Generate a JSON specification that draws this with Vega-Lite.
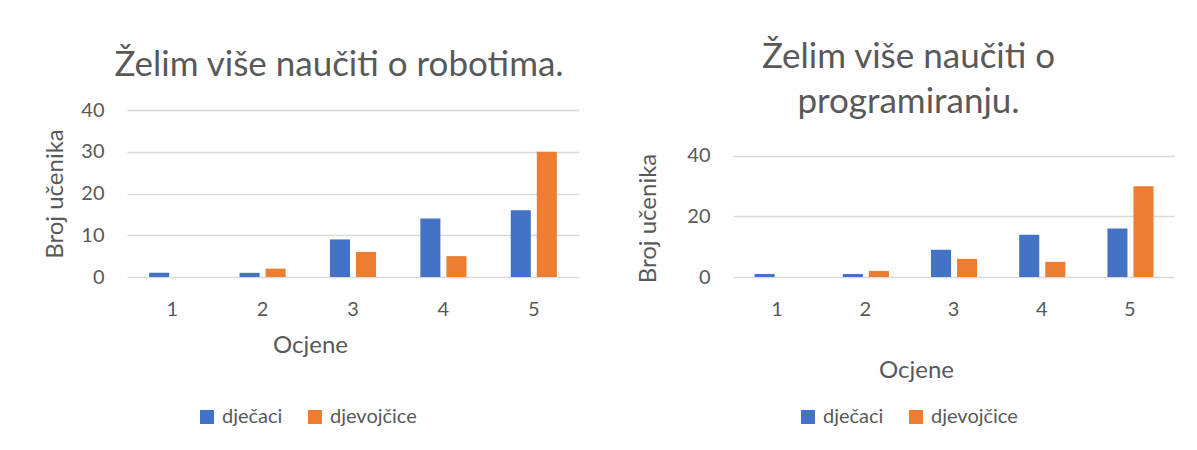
{
  "$schema": "https://vega.github.io/schema/vega-lite/v6.json",
  "background": "white",
  "padding": {"left": 43, "top": 40, "right": 5, "bottom": 5},
  "datasets": {
    "ocjene": [
      {"ocjena": "1", "spol": "dječaci", "broj": 1},
      {"ocjena": "1", "spol": "djevojčice", "broj": 0},
      {"ocjena": "2", "spol": "dječaci", "broj": 1},
      {"ocjena": "2", "spol": "djevojčice", "broj": 2},
      {"ocjena": "3", "spol": "dječaci", "broj": 9},
      {"ocjena": "3", "spol": "djevojčice", "broj": 6},
      {"ocjena": "4", "spol": "dječaci", "broj": 14},
      {"ocjena": "4", "spol": "djevojčice", "broj": 5},
      {"ocjena": "5", "spol": "dječaci", "broj": 16},
      {"ocjena": "5", "spol": "djevojčice", "broj": 30}
    ]
  },
  "spacing": 57,
  "hconcat": [
    {
      "width": 452,
      "height": 167,
      "data": {"name": "ocjene"},
      "title": {"text": "Želim više naučiti o robotima.", "fontSize": 35, "offset": 17, "dx": -14},
      "mark": {"type": "bar"},
      "encoding": {
        "x": {"field": "ocjena", "type": "ordinal", "scale": {"paddingInner": 0.49, "paddingOuter": 0.245},
              "axis": {"title": "Ocjene", "labelAngle": 0, "domain": false, "ticks": false, "grid": false, "labelPadding": 22, "titleX": 183, "titleY": 75, "titleBaseline": "alphabetic"}},
        "xOffset": {"field": "spol", "type": "nominal", "scale": {"domain": ["dječaci", "djevojčice"], "paddingInner": 0.23}},
        "y": {"field": "broj", "type": "quantitative", "scale": {"domain": [0, 40], "nice": false},
              "axis": {"title": "Broj učenika", "values": [0, 10, 20, 30, 40], "domain": false, "ticks": false, "labelPadding": 23, "titlePadding": 13}},
        "color": {"field": "spol", "type": "nominal",
                  "scale": {"domain": ["dječaci", "djevojčice"], "range": ["#4472C4", "#ED7D31"]},
                  "legend": {"title": null, "orient": "none", "legendX": 70, "legendY": 297, "direction": "horizontal"}}
      }
    },
    {
      "width": 441,
      "height": 167,
      "data": {"name": "ocjene"},
      "title": {"text": ["Želim više naučiti o", "programiranju."], "lineHeight": 45, "fontSize": 35, "offset": -10, "dx": -45},
      "mark": {"type": "bar"},
      "encoding": {
        "x": {"field": "ocjena", "type": "ordinal", "scale": {"paddingInner": 0.49, "paddingOuter": 0.245},
              "axis": {"title": "Ocjene", "labelAngle": 0, "domain": false, "ticks": false, "grid": false, "labelPadding": 22, "titleX": 183, "titleY": 100, "titleBaseline": "alphabetic"}},
        "xOffset": {"field": "spol", "type": "nominal", "scale": {"domain": ["dječaci", "djevojčice"], "paddingInner": 0.23}},
        "y": {"field": "broj", "type": "quantitative", "scale": {"domain": [0, 55.2], "nice": false},
              "axis": {"title": "Broj učenika", "values": [0, 20, 40], "domain": false, "ticks": false, "labelPadding": 23, "titlePadding": 26, "titleY": 108}},
        "color": {"field": "spol", "type": "nominal",
                  "scale": {"domain": ["dječaci", "djevojčice"], "range": ["#4472C4", "#ED7D31"]},
                  "legend": {"title": null, "orient": "none", "legendX": 65, "legendY": 297, "direction": "horizontal"}}
      }
    }
  ],
  "resolve": {"scale": {"color": "shared"}, "legend": {"color": "independent"}},
  "config": {
    "font": "Lato",
    "view": {"stroke": null},
    "title": {"color": "#595959", "fontWeight": "normal", "font": "Lato", "anchor": "middle"},
    "axis": {
      "labelFont": "Lato", "labelFontSize": 20, "labelColor": "#595959",
      "titleFont": "Lato", "titleFontSize": 24, "titleColor": "#595959", "titleFontWeight": "normal",
      "gridColor": "#d9d9d9", "gridWidth": 1.5
    },
    "legend": {
      "labelFont": "Lato", "labelFontSize": 20, "labelColor": "#595959",
      "symbolType": "square", "symbolSize": 196, "symbolStrokeWidth": 0, "symbolOpacity": 1,
      "columnPadding": 22, "labelOffset": 5, "padding": 0
    }
  }
}
